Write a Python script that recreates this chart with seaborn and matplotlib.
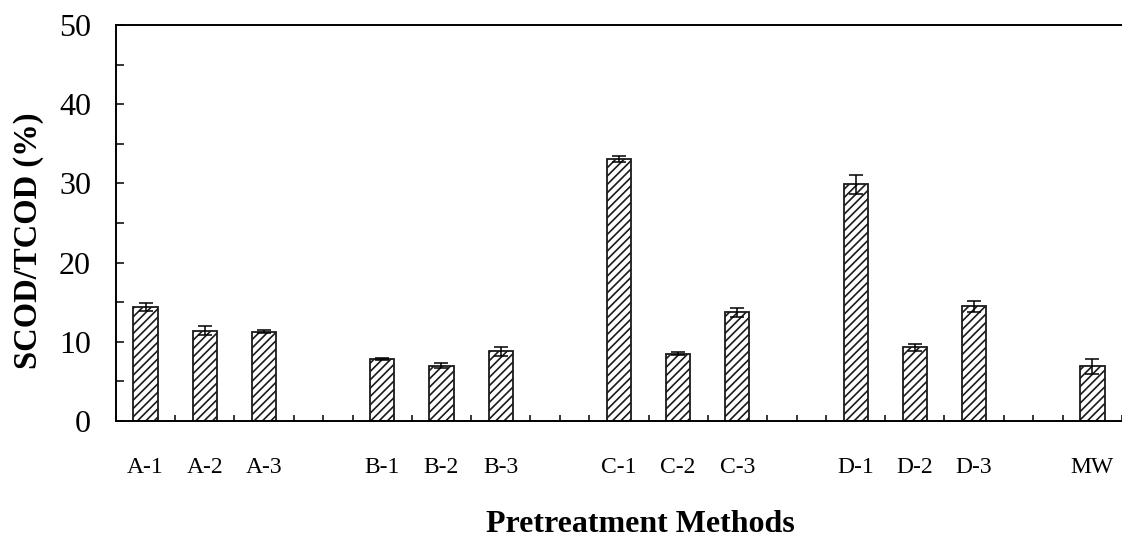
import matplotlib
matplotlib.use("Agg")
import matplotlib.pyplot as plt
from matplotlib.ticker import MultipleLocator
import numpy as np
import pandas as pd
import seaborn as sns

# Pretreatment groups and their SCOD/TCOD ratios (%) with standard deviations
methods = ["A-1", "A-2", "A-3", "B-1", "B-2", "B-3",
           "C-1", "C-2", "C-3", "D-1", "D-2", "D-3", "MW"]
ratio = [14.4, 11.4, 11.3, 7.8, 7.0, 8.8,
         33.1, 8.5, 13.7, 29.9, 9.3, 14.5, 6.9]
std_dev = [0.5, 0.55, 0.15, 0.15, 0.35, 0.6,
           0.35, 0.15, 0.6, 1.2, 0.4, 0.7, 0.95]
groups = [["A-1", "A-2", "A-3"], ["B-1", "B-2", "B-3"],
          ["C-1", "C-2", "C-3"], ["D-1", "D-2", "D-3"], ["MW"]]

df = pd.DataFrame({"method": methods, "ratio": ratio, "sd": std_dev})

# category order with an empty slot between the pretreatment groups
order = []
for gi, g in enumerate(groups):
    order.extend(g)
    if gi < len(groups) - 1:
        order.append(" " * (gi + 1))

sns.set_theme(style="white")
plt.rcParams["font.family"] = ["Liberation Serif", "DejaVu Serif"]
plt.rcParams["hatch.linewidth"] = 1.2
plt.rcParams["text.color"] = "black"
plt.rcParams["axes.labelcolor"] = "black"

fig = plt.figure(figsize=(11.22, 5.38), dpi=100)
ax = fig.add_axes([116 / 1122, 117 / 538, 1 - 116 / 1122, (421 - 25) / 538])

sns.barplot(data=df, x="method", y="ratio", order=order, color="white",
            edgecolor="black", linewidth=1.3, width=0.41, errorbar=None,
            saturation=1, ax=ax)
for p in ax.patches:
    p.set_hatch("////")
    p.set_facecolor("white")
    p.set_edgecolor("#1a1a1a")

pos = {name: i for i, name in enumerate(order)}
xs = [pos[m] for m in df["method"]]
ax.errorbar(xs, df["ratio"], yerr=df["sd"], fmt="none", ecolor="black",
            elinewidth=1.1, capsize=5, capthick=1.1, zorder=5)

ax.set_xlim(-0.5, -0.5 + (1122 - 116) / 59.5)
ax.set_ylim(0, 50)
ax.yaxis.set_major_locator(MultipleLocator(10))
ax.yaxis.set_minor_locator(MultipleLocator(5))
ax.set_xticks(range(len(order)))
ax.set_xticklabels([o if o.strip() else "" for o in order])
ax.set_xticks(np.arange(-0.5, len(order), 1.0), minor=True)

ax.tick_params(axis="y", which="both", direction="in", length=6, width=1.1,
               left=True, labelsize=23, pad=18, colors="black")
ax.tick_params(axis="x", which="both", direction="in", length=4, width=1.1,
               bottom=True, labelsize=17, pad=26, colors="black")

for side in ["left", "bottom", "top"]:
    ax.spines[side].set_visible(True)
    ax.spines[side].set_color("black")
    ax.spines[side].set_linewidth(1.4)
ax.spines["right"].set_visible(False)

ax.set_xlabel("Pretreatment Methods", fontsize=23, fontweight="bold",
              color="black")
ax.xaxis.label.set_va("baseline")
ax.xaxis.set_label_coords(0.521, (421 - 532) / 396)
ax.set_ylabel("SCOD/TCOD (%)", fontsize=23.5, fontweight="bold", color="black")
ax.yaxis.set_label_coords((44 - 116) / 1006, (421 - 241) / 396)

fig.savefig("out.png", dpi=100)
